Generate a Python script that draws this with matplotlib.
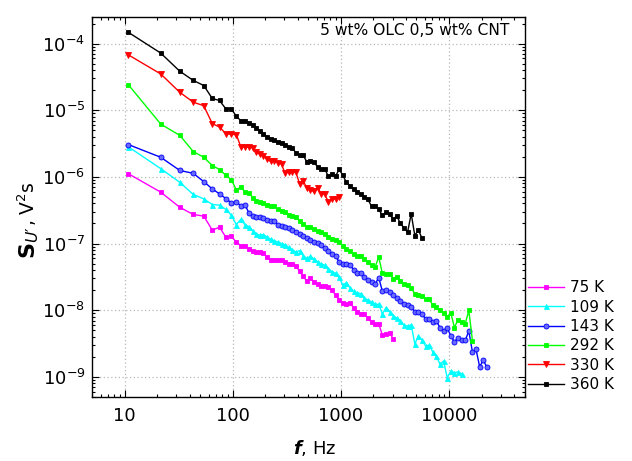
import matplotlib
matplotlib.use("Agg")
import matplotlib.pyplot as plt
from matplotlib.ticker import LogLocator, NullFormatter, FixedLocator, FixedFormatter, LogFormatterSciNotation

FONT = 'DejaVu Sans'
plt.rcParams['font.family'] = [FONT]
plt.rcParams['mathtext.fontset'] = 'custom'
plt.rcParams['mathtext.rm'] = FONT
plt.rcParams['mathtext.it'] = FONT + ':italic'
plt.rcParams['mathtext.bf'] = FONT + ':bold'
plt.rcParams['mathtext.sf'] = FONT + ':italic:bold'

freq = [10.75, 21.5, 32.25, 43, 53.75, 64.5, 75.25, 86, 96.75, 107.5, 118.25, 129,
        141, 153, 165, 178, 192, 207, 224, 242, 261, 282, 304, 329, 355, 383, 414, 447,
        482, 521, 562, 607, 655, 708, 764, 825, 891, 962, 1039, 1122, 1211, 1308, 1413,
        1525, 1647, 1778, 1920, 2073, 2239, 2417, 2610, 2818, 3043, 3286, 3548, 3831,
        4137, 4467, 4823, 5208, 5623, 6072, 6556, 7079, 7644, 8254, 8913, 9624, 10391,
        11220, 12115, 13082, 14125, 15252, 16469, 17783, 19201, 20733, 22387]

s_75K = [1.12e-6, 5.9e-7, 3.5e-7, 2.73e-7, 2.58e-7, 1.59e-7, 1.76e-7, 1.25e-7, 1.29e-7, 1.05e-7, 9.3e-8, 9.1e-8,
         8.4e-8, 7.6e-8, 7.4e-8, 7.4e-8, 7.2e-8, 6.25e-8, 5.7e-8, 5.6e-8, 5.58e-8, 5.7e-8,
         5.36e-8, 4.97e-8, 4.88e-8, 4.6e-8, 3.85e-8, 3.25e-8, 2.73e-8, 3.03e-8, 2.69e-8, 2.44e-8,
         2.3e-8, 2.3e-8, 2.23e-8, 2.04e-8, 1.68e-8, 1.42e-8, 1.29e-8, 1.25e-8, 1.29e-8, 1.09e-8,
         9.5e-9, 8.8e-9, 8.75e-9, 7.6e-9, 6.6e-9, 6.3e-9, 6.2e-9, 4.24e-9, 4.4e-9, 4.6e-9,
         3.7e-9]

s_109K = [2.84e-6, 1.33e-6, 8.3e-7, 5.45e-7, 4.68e-7, 3.85e-7, 3.77e-7, 3.25e-7, 2.67e-7, 1.93e-7, 2.3e-7, 1.93e-7,
          1.79e-7, 1.56e-7, 1.38e-7, 1.34e-7, 1.36e-7, 1.25e-7, 1.16e-7, 1.1e-7, 1.05e-7, 1.0e-7,
          9.5e-8, 8.75e-8, 8.0e-8, 7.5e-8, 7.8e-8, 6.6e-8, 6.0e-8, 6.4e-8, 5.9e-8, 5.36e-8,
          4.94e-8, 4.74e-8, 4.2e-8, 3.8e-8, 3.6e-8, 3.13e-8, 2.38e-8, 2.58e-8, 2.17e-8, 1.93e-8,
          1.82e-8, 1.77e-8, 1.52e-8, 1.42e-8, 1.33e-8, 1.22e-8, 1.23e-8, 8.8e-9, 1.09e-8, 9.5e-9,
          8.3e-9, 7.6e-9, 7.0e-9, 5.9e-9, 5.8e-9, 6.0e-9, 3.13e-9, 4.1e-9, 3.56e-9, 2.9e-9,
          3.0e-9, 2.36e-9, 2.05e-9, 1.54e-9, 1.73e-9, 9.7e-10, 1.22e-9, 1.15e-9, 1.19e-9, 1.11e-9]

s_143K = [3.06e-6, 1.97e-6, 1.25e-6, 1.13e-6, 8.5e-7, 6.6e-7, 5.56e-7, 4.74e-7, 4.07e-7, 4.18e-7, 3.72e-7, 3.85e-7,
          2.86e-7, 2.58e-7, 2.51e-7, 2.46e-7, 2.4e-7, 2.28e-7, 2.2e-7, 2.17e-7, 1.92e-7, 1.85e-7,
          1.79e-7, 1.7e-7, 1.6e-7, 1.49e-7, 1.41e-7, 1.31e-7, 1.21e-7, 1.14e-7, 1.07e-7, 1.01e-7,
          9.4e-8, 8.6e-8, 7.6e-8, 6.9e-8, 6.5e-8, 5.3e-8, 4.9e-8, 5.0e-8, 4.8e-8, 4.06e-8,
          3.66e-8, 3.66e-8, 3.19e-8, 2.84e-8, 2.69e-8, 2.49e-8, 3.06e-8, 1.93e-8, 1.98e-8, 1.87e-8,
          1.68e-8, 1.55e-8, 1.39e-8, 1.25e-8, 1.19e-8, 1.13e-8, 9.5e-9, 9.4e-9, 8.9e-9, 7.3e-9,
          7.4e-9, 6.7e-9, 6.9e-9, 5.45e-9, 4.86e-9, 5.45e-9, 4.1e-9, 3.36e-9, 3.85e-9, 3.56e-9,
          3.52e-9, 4.86e-9, 2.36e-9, 2.58e-9, 1.42e-9, 1.77e-9, 1.4e-9]

s_292K = [2.43e-5, 6.2e-6, 4.2e-6, 2.4e-6, 1.97e-6, 1.48e-6, 1.29e-6, 1.06e-6, 9.1e-7, 6.4e-7, 7.0e-7, 6.0e-7,
          5.7e-7, 4.9e-7, 4.3e-7, 4.25e-7, 4.1e-7, 3.77e-7, 3.64e-7, 3.64e-7, 3.25e-7, 3.13e-7,
          2.95e-7, 2.7e-7, 2.58e-7, 2.53e-7, 2.17e-7, 1.99e-7, 1.76e-7, 1.79e-7, 1.64e-7, 1.56e-7,
          1.48e-7, 1.37e-7, 1.27e-7, 1.18e-7, 1.13e-7, 1.05e-7, 9.3e-8, 8.4e-8, 7.7e-8, 6.9e-8,
          6.4e-8, 6.5e-8, 5.8e-8, 5.3e-8, 4.7e-8, 4.5e-8, 6.25e-8, 3.56e-8, 3.51e-8, 3.51e-8,
          2.98e-8, 3.13e-8, 2.73e-8, 2.5e-8, 2.38e-8, 2.14e-8, 1.77e-8, 1.68e-8, 1.63e-8, 1.49e-8,
          1.45e-8, 1.19e-8, 1.11e-8, 1.0e-8, 9.1e-9, 8.0e-9, 9.1e-9, 5.5e-9, 7.2e-9, 6.7e-9,
          6.25e-9, 9.9e-9, 3.5e-9]

s_330K = [6.8e-5, 3.5e-5, 1.86e-5, 1.32e-5, 1.17e-5, 6.3e-6, 5.6e-6, 4.45e-6, 4.35e-6, 4.32e-6, 2.84e-6, 2.8e-6,
          2.8e-6, 2.74e-6, 2.35e-6, 2.2e-6, 2.05e-6, 1.84e-6, 1.72e-6, 1.76e-6, 1.63e-6, 1.55e-6,
          1.13e-6, 1.19e-6, 1.17e-6, 1.17e-6, 7.9e-7, 8.8e-7, 6.8e-7, 6.25e-7, 6.1e-7, 6.9e-7,
          5.6e-7, 5.45e-7, 4.25e-7, 4.6e-7, 4.7e-7, 4.95e-7]

s_360K = [1.48e-4, 7.2e-5, 3.85e-5, 2.8e-5, 2.35e-5, 1.5e-5, 1.4e-5, 1.05e-5, 1.05e-5, 8.1e-6, 7.0e-6, 7.0e-6,
          6.5e-6, 6.1e-6, 5.4e-6, 4.9e-6, 4.45e-6, 4.0e-6, 3.7e-6, 3.55e-6, 3.3e-6, 3.2e-6,
          3.05e-6, 2.85e-6, 2.7e-6, 2.3e-6, 2.15e-6, 2.1e-6, 1.7e-6, 1.72e-6, 1.66e-6, 1.42e-6,
          1.3e-6, 1.32e-6, 1.02e-6, 1.1e-6, 1.02e-6, 1.3e-6, 1.06e-6, 8.3e-7, 7.4e-7, 6.5e-7,
          6.0e-7, 5.45e-7, 5.0e-7, 4.6e-7, 3.6e-7, 3.7e-7, 3.25e-7, 2.65e-7, 2.95e-7, 2.8e-7,
          2.3e-7, 2.6e-7, 2.0e-7, 1.72e-7, 1.48e-7, 2.8e-7, 1.32e-7, 1.6e-7, 1.2e-7]

labels = ['75 K', '109 K', '143 K', '292 K', '330 K', '360 K']
x_ticks = [10, 100, 1000, 10000]
x_ticklabels = ['10', '100', '1000', '10000']
y_ticks = [1e-9, 1e-8, 1e-7, 1e-6, 1e-5, 1e-4]

series = [s_75K, s_109K, s_143K, s_292K, s_330K, s_360K]
colors = ['#FF00FF', '#00FFFF', '#0000FF', '#00FF00', '#FF0000', '#000000']
markers = ['s', '^', 'o', 's', 'v', 's']
msizes = [3.2, 3.6, 3.6, 3.2, 3.8, 2.6]
mfc = ['#FF00FF', '#00FFFF', '#6A6AFF', '#00FF00', '#FF0000', '#000000']

fig = plt.figure(figsize=(6.32, 4.61), dpi=100)
ax = fig.add_axes([0.146, 0.139, 0.684, 0.824])

handles = []
for ys, lab, c, m, ms, fc in zip(series, labels, colors, markers, msizes, mfc):
    h, = ax.plot(freq[:len(ys)], ys, color=c, lw=1.0, marker=m, ms=ms,
                 markerfacecolor=fc, markeredgecolor=c, markeredgewidth=0.6, label=lab)
    handles.append(h)

ax.set_xscale('log')
ax.set_yscale('log')
ax.set_xlim(5, 5e4)
ax.set_ylim(5e-10, 2.5e-4)

ax.xaxis.set_major_locator(FixedLocator(x_ticks))
ax.xaxis.set_major_formatter(FixedFormatter(x_ticklabels))
ax.xaxis.set_minor_locator(LogLocator(base=10, subs=range(2, 10), numticks=20))
ax.xaxis.set_minor_formatter(NullFormatter())
ax.yaxis.set_major_locator(FixedLocator(y_ticks))
ax.yaxis.set_major_formatter(LogFormatterSciNotation())
ax.yaxis.set_minor_locator(LogLocator(base=10, subs=range(2, 10), numticks=40))
ax.yaxis.set_minor_formatter(NullFormatter())

ax.tick_params(which='both', direction='in', top=True, right=True, width=0.8)
ax.tick_params(which='major', length=5, labelsize=13)
ax.tick_params(axis='x', which='major', pad=7)
ax.tick_params(axis='y', which='major', pad=5)
ax.tick_params(which='minor', length=2.5)
ax.grid(True, which='major', color='#b8b8b8', linestyle=(0, (1, 2)), linewidth=0.9)
for sp in ax.spines.values():
    sp.set_linewidth(1.0)

# y label (two parts with shared baseline)
fig.text(0.0554, 0.5098, r'$\mathbf{S}_{U\prime}$', rotation=90, rotation_mode='anchor',
         ha='right', va='baseline', fontsize=16)
fig.text(0.0554, 0.5098, r', V$^2$s', rotation=90, rotation_mode='anchor',
         ha='left', va='baseline', fontsize=13.5)

# x label
fig.text(0.498, 0.016, r'$\mathsf{f}$, Hz', ha='center', va='baseline', fontsize=13)

# annotation
fig.text(509 / 632, 1 - 35 / 461, '5 wt% OLC 0,5 wt% CNT', ha='right', va='baseline', fontsize=11.2)

fig.legend(handles=handles, labels=labels, loc='lower left',
           bbox_to_anchor=(0.835, 0.150), frameon=False, fontsize=11,
           handlelength=2.4, handletextpad=0.35, labelspacing=0.28, borderaxespad=0,
           borderpad=0)

fig.savefig('out.png', dpi=100)
